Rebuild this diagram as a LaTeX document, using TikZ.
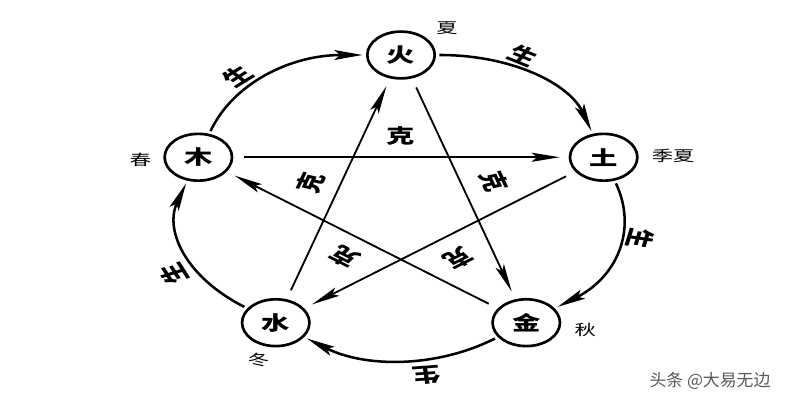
\documentclass[tikz,border=0pt]{standalone}
\usepackage{fontspec}
\newfontfamily\cjk{Noto Sans CJK SC}
\usetikzlibrary{arrows.meta}

\begin{document}
\begin{tikzpicture}[
    x=0.025cm, y=0.025cm, xscale=1.44,
    % Los cinco elementos, estirados en horizontal como en el original
    nodo/.style={circle, draw=black, line width=1.9pt, fill=white, minimum size=1.17cm, inner sep=0pt, font=\cjk\bfseries\fontsize{14}{14}\selectfont, transform shape},
    % Ciclo de generación (exterior) y de dominio (estrella)
    flechaSheng/.style={-{Stealth[length=20pt,width=7pt,inset=4pt]}, line width=1.8pt, shorten <=2pt, shorten >=2pt},
    flechaKe/.style={-{Stealth[length=20pt,width=6.5pt,inset=4pt]}, line width=1.3pt, shorten <=7pt, shorten >=6pt},
    etiqueta/.style={font=\cjk\bfseries\fontsize{14}{14}\selectfont, inner sep=0pt, transform shape},
    estacion/.style={font=\cjk\fontsize{10.5}{10.5}\selectfont, inner sep=0pt, transform shape}
]
    \useasboundingbox (-278.5,-197) rectangle (277.1,203);

    % --- ELEMENTOS ---
    \node[nodo] (huo)  at (90:148)   {火};
    \node[nodo] (tu)   at (18:148)   {土};
    \node[nodo] (jin)  at (-54:148)  {金};
    \node[nodo] (shui) at (-126:148) {水};
    \node[nodo] (mu)   at (162:148)  {木};

    % --- ESTACIONES ---
    \node[estacion] (xia)    at (32,175)    {夏};
    \node[estacion] (jixia)  at (189,47)    {季夏};
    \node[estacion] (qiu)    at (128,-127)  {秋};
    \node[estacion] (dong)   at (-99,-157)  {冬};
    \node[estacion] (chun)   at (-181,43)   {春};

    % --- GENERACIÓN (sheng) ---
    \draw[flechaSheng] (mu) to[bend left=36] (huo);
    \draw[flechaSheng] (huo) to[bend left=36] (tu);
    \draw[flechaSheng] (tu) to[bend left=36] (jin);
    \draw[flechaSheng] (jin) to[bend left=36] (shui);
    \draw[flechaSheng] (shui) to[bend left=36] (mu);

    \node[etiqueta, rotate=42]   (shengA) at (132:170)  {生};
    \node[etiqueta, rotate=-30]  (shengB) at (60:170)   {生};
    \node[etiqueta, rotate=-102] (shengC) at (-12:170)  {生};
    \node[etiqueta, rotate=-174] (shengD) at (-84:173)  {生};
    \node[etiqueta, rotate=114]  (shengE) at (-156:173) {生};

    % --- DOMINIO (ke) ---
    \draw[flechaKe] (mu) -- (tu);
    \draw[flechaKe] (tu) -- (shui);
    \draw[flechaKe] (shui) -- (huo);
    \draw[flechaKe] (huo) -- (jin);
    \draw[flechaKe] (jin) -- (mu);

    \node[etiqueta]              (keA) at (90:67)   {克};
    \node[etiqueta, rotate=216]  (keB) at (-54:68)  {克};
    \node[etiqueta, rotate=72]   (keC) at (162:66)  {克};
    \node[etiqueta, rotate=-72]  (keD) at (18:68)   {克};
    \node[etiqueta, rotate=144]  (keE) at (-126:66) {克};

    % --- MARCA ---
    \node[font=\cjk\fontsize{12}{12}\selectfont, text=black!65, inner sep=0pt] (marca) at (214.6,-178) {头条 @大易无边};

\end{tikzpicture}
\end{document}
